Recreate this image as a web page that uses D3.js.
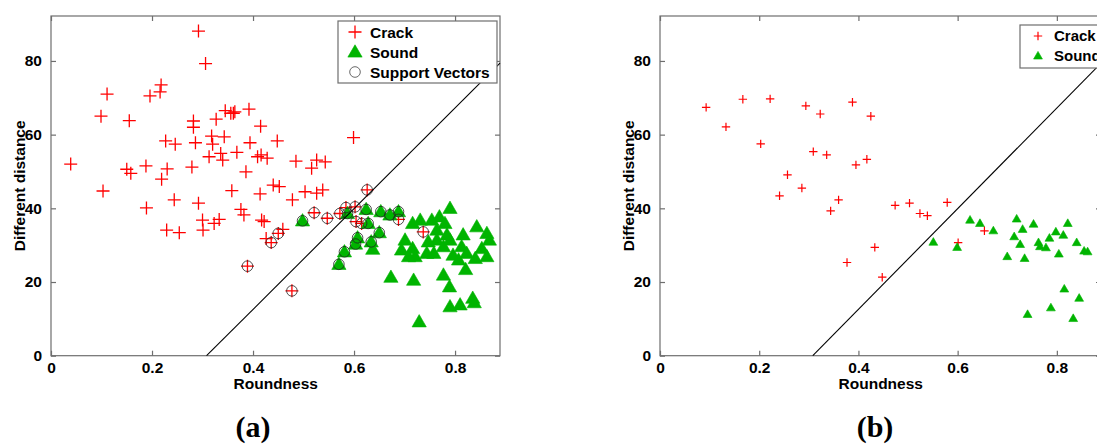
<!DOCTYPE html>
<html>
<head>
<meta charset="utf-8">
<script src="https://cdn.jsdelivr.net/npm/d3@7"></script>
<style>
  html, body { margin: 0; padding: 0; background: #fff; overflow: hidden; }
  text { font-family: "Liberation Sans", Arial, sans-serif; font-weight: bold; fill: #000; }
  .caption { font-family: "Liberation Serif", "Times New Roman", serif; }
</style>
</head>
<body>
<svg id="chart" width="1097" height="445"></svg>
<script>
// Panel (a) — training set with support vectors
const crackA = [
  [0.292, 88.1], [0.306, 79.3], [0.218, 73.5], [0.216, 71.6], [0.111, 71.0], [0.196, 70.5],
  [0.099, 65.0], [0.155, 63.8], [0.282, 63.7], [0.282, 62.0], [0.227, 58.3], [0.246, 57.4],
  [0.286, 57.8], [0.039, 52.0], [0.150, 50.6], [0.158, 49.5], [0.188, 51.5], [0.230, 50.7],
  [0.279, 51.2], [0.219, 47.9], [0.313, 54.0], [0.103, 44.7], [0.189, 40.1], [0.244, 42.3],
  [0.292, 41.4], [0.300, 36.8], [0.229, 34.1], [0.254, 33.4], [0.301, 34.1], [0.345, 66.5],
  [0.356, 65.8], [0.361, 65.8], [0.364, 66.2], [0.392, 66.9], [0.327, 64.2], [0.415, 62.3],
  [0.318, 59.6], [0.320, 57.4], [0.343, 59.4], [0.394, 57.8], [0.448, 58.3], [0.599, 59.2],
  [0.336, 54.9], [0.340, 53.1], [0.368, 55.2], [0.409, 54.0], [0.416, 54.5], [0.428, 53.6],
  [0.386, 49.9], [0.485, 52.8], [0.526, 53.1], [0.543, 52.6], [0.516, 50.9], [0.358, 44.8],
  [0.414, 43.9], [0.440, 46.3], [0.452, 45.9], [0.478, 42.3], [0.503, 44.5], [0.526, 44.1],
  [0.538, 45.0], [0.323, 35.9], [0.333, 37.0], [0.376, 39.7], [0.382, 38.2], [0.417, 36.8],
  [0.422, 36.4], [0.459, 34.3], [0.426, 31.8],
  // crack samples that are support vectors
  [0.389, 24.3], [0.477, 17.6], [0.626, 45.0], [0.521, 38.8], [0.547, 37.3], [0.572, 38.6],
  [0.584, 40.2], [0.602, 40.4], [0.604, 36.4], [0.615, 35.9], [0.688, 37.0], [0.737, 33.6],
  [0.450, 33.2], [0.436, 30.7]
];
const soundA = [
  [0.637, 28.9], [0.673, 21.3], [0.718, 20.5], [0.729, 9.2], [0.790, 40.0], [0.777, 21.9],
  [0.789, 18.7], [0.790, 13.3], [0.810, 13.8], [0.835, 15.6], [0.838, 14.4], [0.821, 23.4],
  [0.716, 35.9], [0.731, 36.8], [0.754, 36.8], [0.769, 37.7], [0.780, 35.9], [0.701, 31.4],
  [0.694, 28.7], [0.716, 29.1], [0.721, 26.9], [0.744, 27.8], [0.758, 27.8], [0.764, 31.4],
  [0.777, 29.6], [0.790, 31.4], [0.796, 27.3], [0.816, 32.8], [0.813, 29.6], [0.823, 27.8],
  [0.807, 26.0], [0.843, 35.0], [0.863, 33.2], [0.853, 29.1], [0.863, 26.9], [0.840, 26.4],
  [0.764, 34.1], [0.747, 30.9], [0.708, 26.9], [0.784, 32.8], [0.868, 31.4],
  // sound samples that are support vectors
  [0.498, 36.6], [0.587, 38.6], [0.628, 35.9], [0.624, 39.7], [0.653, 39.1], [0.671, 38.2],
  [0.688, 39.1], [0.650, 33.4], [0.607, 32.0], [0.603, 30.3], [0.634, 30.9], [0.581, 28.2],
  [0.570, 24.8]
];
const supportA = [
  [0.389, 24.3], [0.477, 17.6], [0.626, 45.0], [0.521, 38.8], [0.547, 37.3], [0.572, 38.6],
  [0.584, 40.2], [0.602, 40.4], [0.604, 36.4], [0.615, 35.9], [0.688, 37.0], [0.737, 33.6],
  [0.450, 33.2], [0.436, 30.7],
  [0.498, 36.6], [0.587, 38.6], [0.628, 35.9], [0.624, 39.7], [0.653, 39.1], [0.671, 38.2],
  [0.688, 39.1], [0.650, 33.4], [0.607, 32.0], [0.603, 30.3], [0.634, 30.9], [0.581, 28.2],
  [0.570, 24.8]
];

// Panel (b) — test set
const crackB = [
  [0.093, 67.4], [0.167, 69.6], [0.222, 69.7], [0.133, 62.1], [0.294, 67.8], [0.323, 65.6],
  [0.388, 68.8], [0.425, 65.0], [0.203, 57.5], [0.309, 55.4], [0.336, 54.5], [0.395, 51.8],
  [0.417, 53.3], [0.257, 49.1], [0.286, 45.5], [0.241, 43.4], [0.360, 42.3], [0.344, 39.3],
  [0.474, 40.8], [0.503, 41.4], [0.524, 38.6], [0.539, 38.0], [0.579, 41.6], [0.433, 29.4],
  [0.377, 25.3], [0.448, 21.3], [0.601, 30.7], [0.654, 33.9]
];
const soundB = [
  [0.551, 30.8], [0.599, 29.4], [0.625, 36.8], [0.645, 35.9], [0.672, 33.9], [0.719, 37.1],
  [0.731, 34.3], [0.753, 35.7], [0.714, 32.3], [0.726, 30.2], [0.700, 26.9], [0.735, 26.4],
  [0.763, 30.7], [0.766, 29.6], [0.778, 29.3], [0.785, 31.9], [0.798, 33.6], [0.813, 32.7],
  [0.822, 35.9], [0.804, 27.6], [0.840, 30.7], [0.855, 28.4], [0.862, 28.2], [0.815, 18.1],
  [0.845, 15.6], [0.788, 13.0], [0.741, 11.2], [0.833, 10.1]
];

// separating hyperplane (same in both panels)
const boundaryX = [0.308, 0.889];
const boundaryY = [0, 79.4];

const xTicks = [0, 0.2, 0.4, 0.6, 0.8];
const yTicks = [0, 20, 40, 60, 80];
const xDomain = [0, 0.889];
const yDomain = [0, 92.2];

const RED = '#ff0000';
const GREEN = '#00b400';
const FRAME = '#6e6e6e';

const svg = d3.select('#chart');

function drawPanel(opt) {
    const x = d3.scaleLinear().domain(xDomain).range([opt.left, opt.left + opt.width]);
    const y = d3.scaleLinear().domain(yDomain).range([opt.top + opt.height, opt.top]);
    const g = svg.append('g');

    // Frame
    g.append('rect')
        .attr('x', opt.left).attr('y', opt.top)
        .attr('width', opt.width).attr('height', opt.height)
        .attr('fill', 'none').attr('stroke', FRAME).attr('stroke-width', 1.2);

    // Axes (ticks inward, box on all sides)
    const ax = [
        { axis: d3.axisBottom(x).tickValues(xTicks).tickFormat(d => d === 0 ? '0' : d3.format('.1f')(d)), t: `translate(0,${opt.top + opt.height})`, labels: true },
        { axis: d3.axisTop(x).tickValues(xTicks), t: `translate(0,${opt.top})`, labels: false },
        { axis: d3.axisLeft(y).tickValues(yTicks), t: `translate(${opt.left},0)`, labels: true },
        { axis: d3.axisRight(y).tickValues(yTicks), t: `translate(${opt.left + opt.width},0)`, labels: false }
    ];
    ax.forEach((a, i) => {
        const ag = g.append('g').attr('transform', a.t)
            .call(a.axis.tickSizeInner(-5).tickSizeOuter(0).tickPadding(8));
        ag.select('.domain').remove();
        ag.selectAll('.tick line').attr('stroke', FRAME).attr('stroke-width', 1.2);
        if (!a.labels) ag.selectAll('.tick text').remove();
        else ag.selectAll('.tick text')
            .attr('font-size', '15.5px')
            .attr('font-family', '"Liberation Sans", Arial, sans-serif')
            .attr('font-weight', 'bold')
            .attr('fill', '#000');
        if (i === 0) ag.selectAll('.tick text').attr('dy', '0.6em');
        if (i === 2) ag.selectAll('.tick text').attr('dx', '-1px');
    });

    // Axis titles
    g.append('text')
        .attr('x', x(0.445))
        .attr('y', 389)
        .attr('text-anchor', 'middle')
        .attr('font-size', '15.5px')
        .text('Roundness');
    g.append('text')
        .attr('transform', `translate(${opt.left - 26},${opt.top + opt.height / 2}) rotate(-90)`)
        .attr('text-anchor', 'middle')
        .attr('font-size', '15.5px')
        .text('Different distance');

    // Markers
    const plus = (sel, data, r, w) => sel.selectAll(null).data(data).enter().append('path')
        .attr('d', d => `M${x(d[0]) - r},${y(d[1])}H${x(d[0]) + r}M${x(d[0])},${y(d[1]) - r}V${y(d[1]) + r}`)
        .attr('stroke', RED).attr('stroke-width', w).attr('fill', 'none');
    const tri = d3.symbol().type(d3.symbolTriangle).size(opt.triSize);

    plus(g.append('g'), opt.crack, opt.plusR, opt.plusW);
    g.append('g').selectAll('path').data(opt.sound).enter().append('path')
        .attr('d', tri)
        .attr('transform', d => `translate(${x(d[0])},${y(d[1]) + opt.triShift})`)
        .attr('fill', GREEN).attr('stroke', GREEN).attr('stroke-width', 0.6);

    if (opt.support) {
        g.append('g').selectAll('circle').data(opt.support).enter().append('circle')
            .attr('cx', d => x(d[0])).attr('cy', d => y(d[1]))
            .attr('r', 5.3)
            .attr('fill', 'none').attr('stroke', '#222').attr('stroke-width', 0.8);
    }

    // Decision boundary
    const line = d3.line().x(d => x(d[0])).y(d => y(d[1]));
    g.append('path')
        .datum(boundaryX.map((v, i) => [v, boundaryY[i]]))
        .attr('d', line)
        .attr('fill', 'none').attr('stroke', '#000').attr('stroke-width', 1.1);

    // Legend
    const L = opt.legend;
    const lg = g.append('g');
    lg.append('rect')
        .attr('x', L.x).attr('y', L.y).attr('width', L.w).attr('height', L.h)
        .attr('fill', '#fff').attr('stroke', FRAME).attr('stroke-width', 1.2);
    L.items.forEach((name, i) => {
        const cy = L.y + L.first + i * L.step;
        const mx = L.x + L.mx;
        if (name === 'Crack') {
            lg.append('path')
                .attr('d', `M${mx - opt.plusR},${cy}H${mx + opt.plusR}M${mx},${cy - opt.plusR}V${cy + opt.plusR}`)
                .attr('stroke', RED).attr('stroke-width', opt.plusW);
        } else if (name === 'Sound') {
            lg.append('path').attr('d', tri)
                .attr('transform', `translate(${mx},${cy + opt.triShift})`)
                .attr('fill', GREEN).attr('stroke', GREEN).attr('stroke-width', 0.6);
        } else {
            lg.append('circle').attr('cx', mx).attr('cy', cy).attr('r', 5.3)
                .attr('fill', 'none').attr('stroke', '#444').attr('stroke-width', 0.8);
        }
        lg.append('text')
            .attr('x', L.x + L.tx).attr('y', cy)
            .attr('dy', '0.36em')
            .attr('font-size', L.font)
            .attr('font-weight', L.weight)
            .text(name);
    });

    // Caption
    svg.append('text')
        .attr('class', 'caption')
        .attr('x', opt.captionX).attr('y', 437)
        .attr('text-anchor', 'middle')
        .attr('font-size', '30px')
        .text(opt.caption);
}

drawPanel({
    left: 51, top: 16, width: 449, height: 339.7,
    crack: crackA, sound: soundA, support: supportA,
    plusR: 6.5, plusW: 1.3, triSize: 88, triShift: 1,
    legend: { x: 338, y: 21, w: 159, h: 62, first: 11, step: 20, mx: 17, tx: 32,
              font: '15.5px', weight: 'bold', items: ['Crack', 'Sound', 'Support Vectors'] },
    caption: '(a)', captionX: 253
});

drawPanel({
    left: 660, top: 16, width: 441, height: 339.7,
    crack: crackB, sound: soundB, support: null,
    plusR: 4.2, plusW: 1.2, triSize: 34, triShift: 0.5,
    legend: { x: 1020, y: 25, w: 100, h: 43, first: 11, step: 20, mx: 18, tx: 34,
              font: '15px', weight: 'bold', items: ['Crack', 'Sound'] },
    caption: '(b)', captionX: 875
});
</script>
</body>
</html>
